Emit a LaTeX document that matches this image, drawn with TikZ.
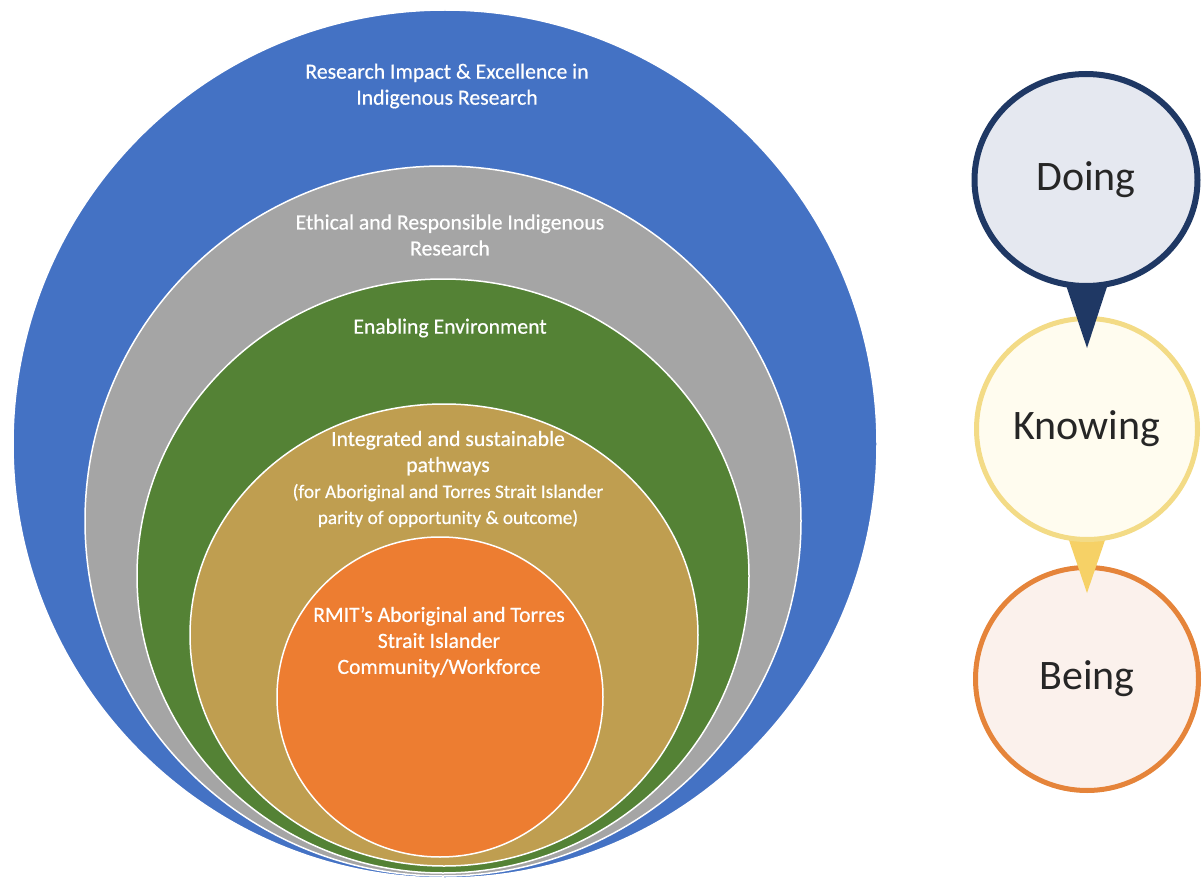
\documentclass[tikz,border=0pt]{standalone}
\usepackage{fontspec}
\setmainfont{Carlito}
\newfontfamily\ringfont[FakeBold=0.5]{Carlito}
\usepackage{xcolor}
\usetikzlibrary{shapes.geometric, calc}

\definecolor{ringblue}{HTML}{4472C4}
\definecolor{ringgray}{HTML}{A5A5A5}
\definecolor{ringgreen}{HTML}{548235}
\definecolor{ringtan}{HTML}{BF9E50}
\definecolor{ringorange}{HTML}{ED7D31}
\definecolor{doingdark}{HTML}{1F3864}
\definecolor{doinglight}{HTML}{E5E8F0}
\definecolor{knowingdark}{HTML}{F6D166}
\definecolor{knowingline}{HTML}{F3DB86}
\definecolor{knowinglight}{HTML}{FFFCEF}
\definecolor{beingdark}{HTML}{E5843A}
\definecolor{beinglight}{HTML}{FBF1EC}
\definecolor{pintext}{HTML}{262626}

\tikzset{
  ring/.style={draw=white, line width=1.5pt},
  ringtext/.style={text=white, align=center,
                   font=\ringfont\fontsize{21.7}{26}\selectfont},
  pinnode/.style={circle, text=pintext, inner sep=0pt,
                  font=\fontsize{42}{50}\selectfont},
}

\begin{document}
\begin{tikzpicture}[x=1pt, y=-1pt]
  \useasboundingbox (0,0) rectangle (1203,880);

  % --- Nested rings ---
  \filldraw[ring, fill=ringblue]   (445,444) ellipse [x radius=432, y radius=434];
  \filldraw[ring, fill=ringgray]   (443,521) ellipse [x radius=358, y radius=355];
  \filldraw[ring, fill=ringgreen]  (443,576) ellipse [x radius=306, y radius=297];
  \filldraw[ring, fill=ringtan]    (444,635) ellipse [x radius=254, y radius=231];
  \filldraw[ring, fill=ringorange] (440,697) ellipse [x radius=163, y radius=160];

  % --- Ring labels ---
  \node[ringtext] (impact) at (447,86)
    {Research Impact \& Excellence in\\Indigenous Research};
  \node[ringtext] (ethics) at (450,235)
    {Ethical and Responsible Indigenous\\Research};
  \node[ringtext] (enabling) at (450,328) {Enabling Environment};
  \node[ringtext] (pathways) at (448,479)
    {Integrated and sustainable\\pathways\\
     {\fontsize{19.2}{26}\selectfont (for Aboriginal and Torres Strait Islander}\\
     {\fontsize{19.2}{26}\selectfont parity of opportunity \& outcome)}};
  \node[ringtext] (community) at (439,642)
    {RMIT’s Aboriginal and Torres\\Strait Islander\\Community/Workforce};

  % --- Pins (bottom one first, so each point lies over the next circle) ---
  \coordinate (beingc) at (1087,679);
  \node[pinnode, minimum size=223pt, draw=beingdark, line width=5pt,
        fill=beinglight] (being) at (beingc) {Being};

  \coordinate (knowingc) at (1087,429);
  \coordinate (knowingtip) at (1087,593);
  \fill[knowingdark] ($(knowingc)+(-137.6:110)$) -- (knowingtip)
    -- ($(knowingc)+(-42.4:110)$) -- cycle;
  \node[pinnode, minimum size=221pt, draw=knowingline, line width=5pt,
        fill=knowinglight] (knowing) at (knowingc) {Knowing};

  \coordinate (doingc) at (1086,180);
  \coordinate (doingtip) at (1087,348);
  \fill[doingdark] ($(doingc)+(-136:111 and 106)$) -- (doingtip)
    -- ($(doingc)+(-44:111 and 106)$) -- cycle;
  \node[pinnode, ellipse, minimum width=223pt, minimum height=212pt,
        draw=doingdark, line width=6pt,
        fill=doinglight] (doing) at (doingc) {Doing};
\end{tikzpicture}
\end{document}
